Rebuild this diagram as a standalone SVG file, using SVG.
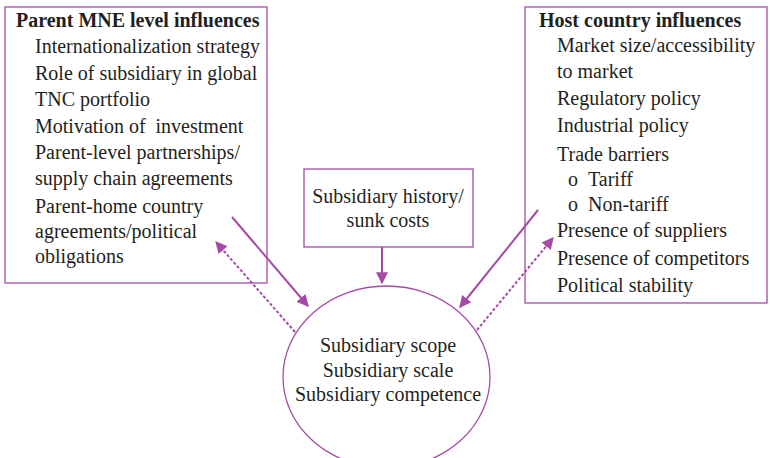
<svg xmlns="http://www.w3.org/2000/svg" width="770" height="458" viewBox="0 0 770 458">
<defs>
<style>
.box{fill:#fff;stroke:#a54ba6;stroke-width:1.3}
.t{font-family:"Liberation Serif","Times New Roman",serif;font-size:20px;fill:#231f20}
.b{font-weight:bold}
.c{text-anchor:middle}
.solid{stroke:#a54ba6;stroke-width:2;fill:none}
.dash{stroke:#a54ba6;stroke-width:2;fill:none;stroke-dasharray:3 2}
</style>
<marker id="ah" viewBox="0 0 10 10" refX="9" refY="5" markerWidth="6" markerHeight="6" orient="auto" markerUnits="strokeWidth">
<path d="M0,0 L10,5 L0,10 z" fill="#a54ba6"/>
</marker>
</defs>
<rect width="770" height="458" fill="#fff"/>
<g id="parent">
<rect class="box" x="5" y="7" width="262" height="276"/>
<text class="t b" x="16" y="27">Parent MNE level influences</text>
<text class="t" x="35" y="53">Internationalization strategy</text>
<text class="t" x="35" y="80">Role of subsidiary in global</text>
<text class="t" x="35" y="106">TNC portfolio</text>
<text class="t" x="35" y="133" xml:space="preserve">Motivation of  investment</text>
<text class="t" x="35" y="159">Parent-level partnerships/</text>
<text class="t" x="35" y="185">supply chain agreements</text>
<text class="t" x="35" y="213">Parent-home country</text>
<text class="t" x="35" y="238">agreements/political</text>
<text class="t" x="35" y="263">obligations</text>
</g>
<g id="host">
<rect class="box" x="525" y="7" width="242" height="296"/>
<text class="t b" x="539" y="27">Host country influences</text>
<text class="t" x="557" y="52">Market size/accessibility</text>
<text class="t" x="557" y="78">to market</text>
<text class="t" x="557" y="105">Regulatory policy</text>
<text class="t" x="557" y="132">Industrial policy</text>
<text class="t" x="557" y="161">Trade barriers</text>
<text class="t" x="568" y="186">o</text>
<text class="t" x="588" y="186">Tariff</text>
<text class="t" x="568" y="211">o</text>
<text class="t" x="588" y="211">Non-tariff</text>
<text class="t" x="557" y="237">Presence of suppliers</text>
<text class="t" x="557" y="265">Presence of competitors</text>
<text class="t" x="557" y="292">Political stability</text>
</g>
<g id="history">
<rect class="box" x="304" y="169" width="169" height="78"/>
<text class="t c" x="388" y="203">Subsidiary history/</text>
<text class="t c" x="388" y="227">sunk costs</text>
</g>
<g id="subsidiary">
<ellipse class="box" cx="386.5" cy="377" rx="103.5" ry="91"/>
<text class="t c" x="388" y="352">Subsidiary scope</text>
<text class="t c" x="388" y="377">Subsidiary scale</text>
<text class="t c" x="388" y="401">Subsidiary competence</text>
</g>
<g id="connectors">
<line class="solid" x1="382" y1="247" x2="382" y2="283" marker-end="url(#ah)"/>
<line class="solid" x1="232" y1="217" x2="308" y2="306" marker-end="url(#ah)"/>
<line class="dash" x1="295" y1="332" x2="216" y2="242" marker-end="url(#ah)"/>
<line class="solid" x1="538" y1="210" x2="460" y2="307" marker-end="url(#ah)"/>
<line class="dash" x1="477" y1="330" x2="553" y2="238" marker-end="url(#ah)"/>
</g>
</svg>
